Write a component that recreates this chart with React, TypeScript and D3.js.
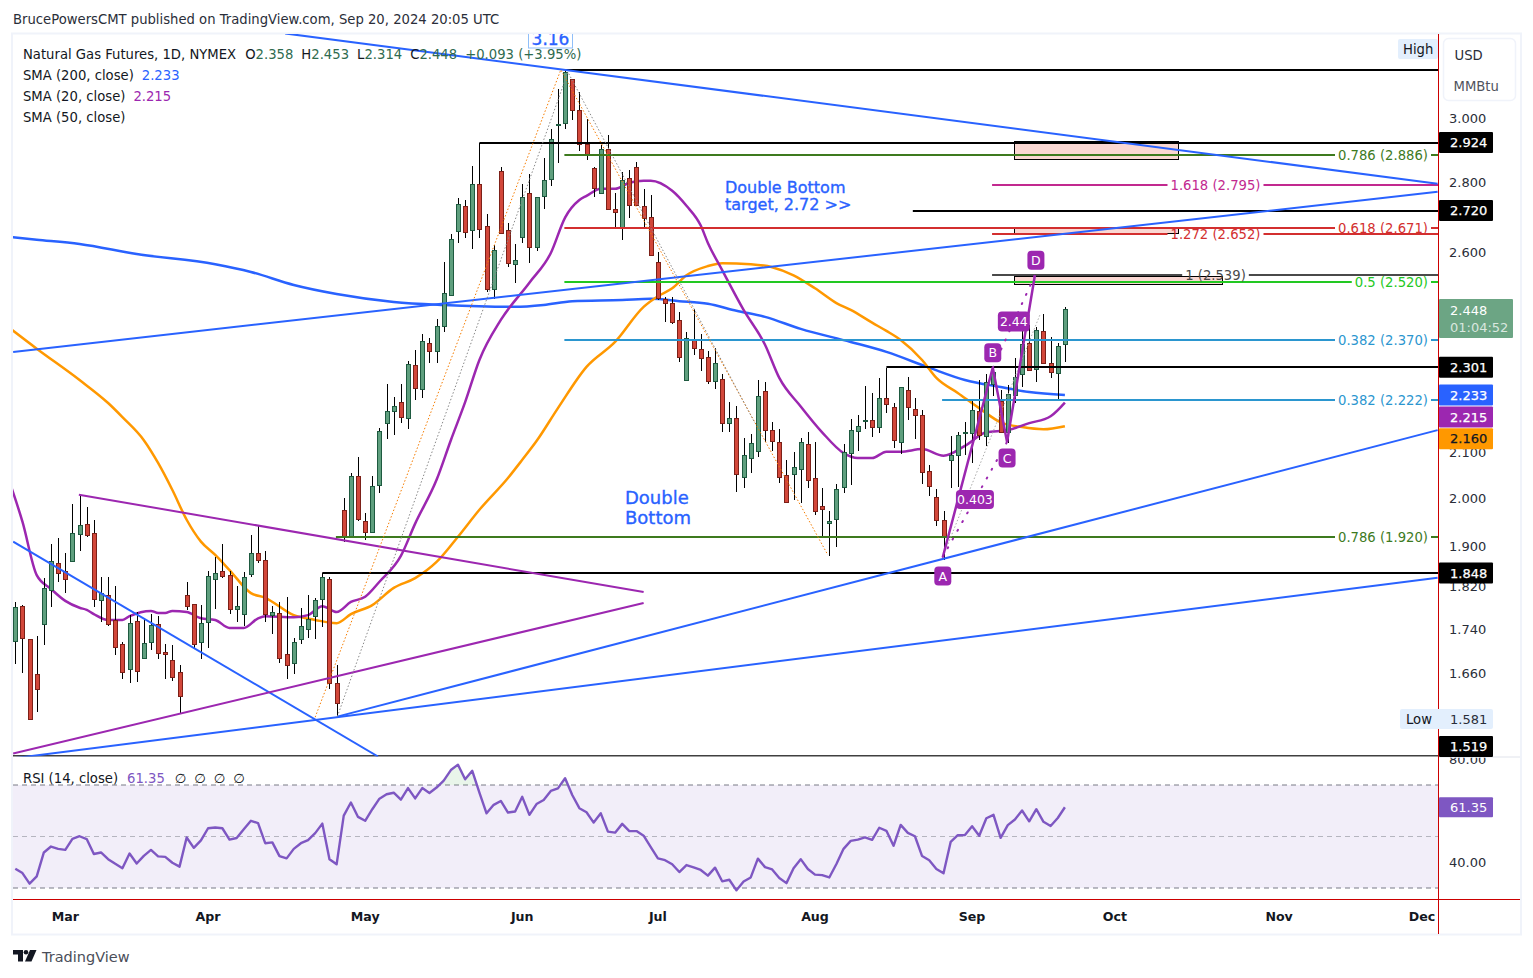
import { useEffect, useRef } from "react"
import * as d3 from "d3"

// daily candles
const openValues = [
  1.718,1.783,1.721,1.658,1.749,1.815,1.866,1.851,1.871,1.927,
  1.947,1.927,1.794,1.804,1.757,1.712,1.667,1.755,1.687,1.716,
  1.749,1.698,1.683,1.662,1.804,1.787,1.716,1.753,1.835,1.851,
  1.843,1.777,1.768,1.845,1.887,1.872,1.767,1.770,1.694,1.678,
  1.721,1.739,1.764,1.796,1.835,1.642,1.975,1.919,2.048,1.952,
  1.929,2.028,2.168,2.195,2.216,2.181,2.306,2.247,2.361,2.341,
  2.404,2.484,2.658,2.732,2.664,2.797,2.675,2.500,2.836,2.661,
  2.567,2.644,2.770,2.615,2.761,2.812,2.978,2.984,3.126,3.026,
  2.919,2.845,2.770,2.903,2.724,2.669,2.815,2.848,2.732,2.701,
  2.573,2.474,2.463,2.419,2.269,2.371,2.346,2.326,2.267,2.272,
  2.167,2.179,2.047,2.088,2.104,2.243,2.151,2.124,2.051,2.053,
  2.064,2.119,2.044,1.984,1.949,1.957,2.024,2.099,2.149,2.172,
  2.174,2.158,2.226,2.204,2.124,2.245,2.199,2.186,2.060,2.003,
  1.955,2.084,2.095,2.144,2.144,2.195,2.137,2.259,2.219,2.146,
  2.233,2.284,2.361,2.296,2.391,2.311,2.286,2.358,
]
const highValues = [
  1.791,1.785,1.721,1.728,1.837,1.905,1.917,1.887,1.988,2.008,
  1.982,1.954,1.839,1.839,1.821,1.716,1.766,1.772,1.760,1.769,
  1.764,1.712,1.710,1.674,1.829,1.787,1.785,1.851,1.879,1.905,
  1.851,1.821,1.849,1.924,1.942,1.890,1.783,1.791,1.800,1.723,
  1.779,1.804,1.798,1.847,1.839,1.674,2.001,2.055,2.090,1.969,
  2.048,2.157,2.259,2.228,2.259,2.316,2.343,2.384,2.373,2.422,
  2.572,2.650,2.755,2.749,2.851,2.921,2.709,2.620,2.848,2.681,
  2.623,2.797,2.827,2.758,2.876,2.965,3.093,3.157,3.126,3.084,
  2.997,2.848,2.915,2.946,2.770,2.833,2.839,2.864,2.782,2.764,
  2.600,2.479,2.479,2.440,2.389,2.448,2.384,2.341,2.348,2.284,
  2.216,2.206,2.132,2.142,2.269,2.264,2.169,2.153,2.084,2.102,
  2.132,2.146,2.124,2.022,1.974,2.031,2.119,2.176,2.186,2.255,
  2.238,2.274,2.299,2.214,2.252,2.276,2.226,2.197,2.073,2.020,
  1.974,2.137,2.146,2.169,2.223,2.269,2.284,2.299,2.245,2.257,
  2.323,2.394,2.406,2.401,2.435,2.376,2.361,2.453,
]
const lowValues = [
  1.677,1.661,1.581,1.593,1.710,1.782,1.829,1.809,1.871,1.890,
  1.920,1.782,1.754,1.746,1.692,1.650,1.642,1.645,1.685,1.701,
  1.686,1.650,1.647,1.590,1.775,1.703,1.686,1.706,1.778,1.837,
  1.769,1.754,1.745,1.839,1.866,1.754,1.730,1.678,1.649,1.659,
  1.713,1.724,1.721,1.744,1.633,1.585,1.909,1.917,1.952,1.913,
  1.927,2.012,2.131,2.140,2.167,2.153,2.221,2.226,2.311,2.311,
  2.389,2.484,2.627,2.641,2.609,2.641,2.492,2.474,2.655,2.559,
  2.516,2.627,2.570,2.603,2.724,2.791,2.861,2.965,2.994,2.897,
  2.870,2.758,2.770,2.721,2.672,2.635,2.698,2.735,2.669,2.595,
  2.471,2.414,2.409,2.313,2.269,2.331,2.291,2.259,2.247,2.146,
  2.146,2.014,2.022,2.055,2.091,2.124,2.104,2.033,1.993,1.997,
  1.990,2.022,1.964,1.920,1.881,1.899,2.012,2.029,2.104,2.153,
  2.135,2.144,2.190,2.110,2.097,2.174,2.130,2.031,2.005,1.942,
  1.873,2.022,2.024,2.095,2.077,2.128,2.115,2.231,2.144,2.121,
  2.214,2.252,2.291,2.264,2.308,2.274,2.223,2.314,
]
const closeValues = [
  1.782,1.723,1.581,1.632,1.817,1.871,1.847,1.835,1.927,1.945,
  1.925,1.796,1.808,1.749,1.707,1.662,1.751,1.664,1.714,1.747,
  1.696,1.694,1.653,1.620,1.783,1.712,1.751,1.841,1.847,1.841,
  1.777,1.783,1.839,1.887,1.872,1.768,1.772,1.687,1.675,1.716,
  1.745,1.758,1.794,1.839,1.642,1.608,1.919,2.048,1.956,1.929,
  2.026,2.148,2.196,2.206,2.181,2.309,2.250,2.366,2.341,2.404,
  2.489,2.637,2.737,2.658,2.797,2.667,2.500,2.606,2.655,2.570,
  2.578,2.758,2.615,2.758,2.809,2.934,2.981,3.150,3.026,2.919,
  2.885,2.785,2.903,2.724,2.715,2.809,2.735,2.735,2.698,2.595,
  2.476,2.463,2.414,2.326,2.373,2.348,2.323,2.267,2.311,2.169,
  2.179,2.053,2.095,2.121,2.231,2.151,2.126,2.047,1.993,2.069,
  2.124,2.040,1.974,1.978,1.953,2.020,2.102,2.151,2.160,2.174,
  2.158,2.226,2.212,2.128,2.252,2.204,2.186,2.058,2.027,1.955,
  1.920,2.095,2.140,2.146,2.197,2.140,2.264,2.289,2.146,2.235,
  2.276,2.358,2.294,2.394,2.311,2.289,2.353,2.448,
]

const sma20Bars = [-1,1,3,5,7,9,10,11,13,15,16,19,20,21,22,24,26,28,30,32,34,35,39,41,43,45,47,49,51,54,56,59,61,63,65,68,72,75,77,79,80,82,84,86,88,89,92,94,96,97,99,102,105,107,110,113,116,118,120,122,124,127,130,133,136,139,142,145,147]
const sma20Values = [2.044,1.951,1.843,1.816,1.793,1.780,1.776,1.768,1.757,1.757,1.764,1.774,1.770,1.770,1.774,1.772,1.760,1.757,1.742,1.742,1.760,1.764,1.762,1.766,1.783,1.772,1.791,1.801,1.830,1.881,1.947,2.040,2.128,2.216,2.318,2.419,2.517,2.598,2.698,2.749,2.761,2.782,2.782,2.800,2.806,2.806,2.776,2.732,2.675,2.626,2.551,2.445,2.356,2.274,2.206,2.146,2.099,2.088,2.088,2.102,2.102,2.108,2.093,2.115,2.146,2.151,2.167,2.183,2.215]

const sma50Bars = [-1,3,9,13,15,18,20,22,24,26,28,30,33,35,39,42,45,47,50,53,56,59,62,65,69,71,73,76,80,84,88,90,92,94,97,99,103,106,109,112,115,117,120,122,124,127,129,132,135,138,141,144,147]
const sma50Values = [2.401,2.346,2.269,2.214,2.181,2.128,2.077,2.018,1.955,1.910,1.883,1.853,1.808,1.799,1.766,1.757,1.751,1.768,1.785,1.818,1.837,1.869,1.920,1.976,2.044,2.084,2.126,2.202,2.301,2.363,2.453,2.481,2.502,2.537,2.562,2.570,2.567,2.559,2.537,2.502,2.463,2.445,2.412,2.391,2.368,2.318,2.274,2.238,2.202,2.169,2.158,2.153,2.160]

const sma200Bars = [-1,3,9,17,28,33,39,45,53,60,70,74,78,85,89,93,97,101,105,110,117,122,128,133,138,142,147]
const sma200Values = [2.643,2.635,2.623,2.595,2.567,2.546,2.511,2.487,2.466,2.458,2.453,2.458,2.468,2.471,2.474,2.468,2.461,2.443,2.427,2.396,2.363,2.338,2.299,2.269,2.252,2.240,2.233]

const rsiValues = [
  37.5,35.8,31.7,34.5,43.8,46.1,45.2,44.8,49.1,50.1,
  49.0,43.2,43.8,41.2,39.4,37.7,43.4,39.5,42.5,44.8,
  42.3,42.1,39.8,38.3,49.6,45.6,48.5,53.2,53.5,53.2,
  48.8,49.4,52.8,56.1,55.2,47.4,47.7,42.4,41.5,45.2,
  47.4,48.6,51.3,55.0,41.2,39.2,58.1,63.2,57.6,56.1,
  60.6,64.7,66.4,67.0,64.3,68.8,64.8,68.8,66.9,69.0,
  71.7,75.8,77.9,72.2,75.5,67.0,59.0,62.3,63.8,59.3,
  59.7,65.4,58.4,62.6,64.2,67.7,68.7,72.6,66.1,61.0,
  59.4,55.4,59.0,51.9,51.5,54.9,52.1,52.1,50.3,45.9,
  41.5,40.8,39.2,36.2,38.9,38.0,37.0,34.8,37.9,32.6,
  33.2,29.1,32.5,34.1,41.4,38.1,37.2,33.9,31.9,37.7,
  41.2,37.4,35.2,35.0,34.1,39.3,45.2,48.3,48.8,49.7,
  48.7,53.4,52.2,46.4,54.5,51.4,50.1,42.4,40.8,37.4,
  35.7,47.9,50.5,50.6,54.0,50.3,57.1,58.4,49.5,54.4,
  56.6,60.1,55.9,60.6,55.7,54.1,57.2,61.35,
]

const priceTicks = [3.0, 2.8, 2.6, 2.1, 2.0, 1.9, 1.82, 1.74, 1.66, 1.58]
const rsiTicks = [80, 40]
const rsiBands = [70, 50, 30]
const monthLabels = ["Mar", "Apr", "May", "Jun", "Jul", "Aug", "Sep", "Oct", "Nov", "Dec"]
const monthBars = [7, 27, 49, 71, 90, 112, 134, 154, 177, 197]

// horizontal levels: price, first bar
const blackLevelPrices = [3.158, 2.924, 2.72, 2.301, 1.848]
const blackLevelBars = [77, 65, 125.7, 122, 43]
const fibLabels = ["0.786 (2.886)", "0.618 (2.671)", "0.5 (2.520)", "0.382 (2.370)", "0.382 (2.222)", "0.786 (1.920)"]
const fibPrices = [2.886, 2.671, 2.52, 2.37, 2.222, 1.92]
const fibBars = [76.9, 76.9, 76.9, 76.9, 129.8, 44.9]
const extLabels = ["1.618 (2.795)", "1.272 (2.652)", "1 (2.539)"]
const extPrices = [2.795, 2.652, 2.539]
const boxBars = [[139.9, 162.8], [139.9, 162.8], [139.9, 169]]
const boxPrices = [[2.926, 2.87], [2.667, 2.652], [2.534, 2.513]]

const blueTrends = [
  [37.8, 3.283, 199.2, 2.797],
  [-0.3, 2.338, 199.2, 2.773],
  [45.1, 1.585, 199.2, 2.151],
  [-0.3, 1.516, 199.2, 1.838],
  [-0.3, 1.91, 50.8, 1.519],
]
const purpleTrends = [
  [8.9, 2.008, 88, 1.81],
  [-0.3, 1.524, 88, 1.789],
]
const orangeFib = [[42, 1.584], [76.4, 3.158], [113.8, 1.883]]
const grayFib = [[45.1, 1.585], [77.4, 3.15], [103.6, 2.167]]
const grayFib2 = [[129.9, 1.879], [143.5, 2.432]]
const patternBars = [129.9, 136.9, 138.9, 142.8]
const patternPrices = [1.879, 2.299, 2.124, 2.537]
const patternNames = ["A", "B", "C", "D"]

const FONT = "'DejaVu Sans', sans-serif"
const TXT = 13.2
const PLOT_L = 13
const PLOT_R = 1438
const PANE_T = 34
const PANE_B = 756.5
const AXIS_R = 1520
const FRAME_B = 934
const TIME_T = 899.5

export default function App() {
  const svgRef = useRef<SVGSVGElement>(null)

  useEffect(() => {
    if (!svgRef.current) return
    const svg = d3.select(svgRef.current)
    svg.selectAll("*").remove()
    svg.attr("font-family", FONT)

    const x = d3.scaleLinear().domain([0, 147]).range([15.3, 1064.9])
    const y = d3.scaleLog().domain([1.519, 3]).range([PANE_B, 118])
    const rsiY = d3.scaleLinear().domain([30, 70]).range([888, 785])
    const levelY = (p: number) => Math.round(y(p) + 0.6)

    svg.append("rect").attr("width", 1533).attr("height", 978).attr("fill", "#fff")

    const defs = svg.append("defs")
    defs.append("clipPath").attr("id", "pane").append("rect")
      .attr("x", PLOT_L).attr("y", PANE_T).attr("width", PLOT_R - PLOT_L).attr("height", PANE_B - PANE_T)
    defs.append("clipPath").attr("id", "above70").append("rect")
      .attr("x", PLOT_L).attr("y", 758).attr("width", PLOT_R - PLOT_L).attr("height", rsiY(70) - 758)
    defs.append("clipPath").attr("id", "axisclip").append("rect")
      .attr("x", PLOT_R).attr("y", PANE_B + 1).attr("width", 82).attr("height", 130)

    // header
    svg.append("text").attr("x", 13).attr("y", 24).attr("font-size", TXT).attr("fill", "#2a2e39")
      .text("BrucePowersCMT published on TradingView.com, Sep 20, 2024 20:05 UTC")

    // frame
    svg.append("rect").attr("x", 12).attr("y", 33.5).attr("width", AXIS_R - 11).attr("height", FRAME_B - 33)
      .attr("fill", "none").attr("stroke", "#f0f3fa").attr("stroke-width", 2)

    const pane = svg.append("g").attr("clip-path", "url(#pane)")

    const lineFrom = (bars: number[], vals: number[]) =>
      d3.line<number>().x((b) => x(b)).y((_, i) => y(vals[i])).curve(d3.curveMonotoneX)(bars)

    // moving averages
    const smaSeries = [
      { bars: sma200Bars, vals: sma200Values, color: "#2962ff" },
      { bars: sma50Bars, vals: sma50Values, color: "#ff9800" },
      { bars: sma20Bars, vals: sma20Values, color: "#9c27b0" },
    ]
    smaSeries.forEach((s) => {
      pane.append("path").attr("d", lineFrom(s.bars, s.vals)).attr("fill", "none")
        .attr("stroke", s.color).attr("stroke-width", 2.5).attr("stroke-linejoin", "round")
    })

    // candles
    const candles = pane.selectAll(".candle").data(openValues.map((o, i) => i)).enter().append("g")
    candles.append("rect")
      .attr("x", (i) => Math.round(x(i)))
      .attr("y", (i) => y(highValues[i]))
      .attr("width", 1)
      .attr("height", (i) => y(lowValues[i]) - y(highValues[i]))
      .attr("fill", "#000")
      .attr("shape-rendering", "crispEdges")
    candles.append("rect")
      .attr("x", (i) => Math.round(x(i)) - 1.5)
      .attr("y", (i) => Math.round(y(Math.max(openValues[i], closeValues[i]))) + 0.5)
      .attr("width", 4)
      .attr("height", (i) => Math.max(1, Math.round(Math.abs(y(openValues[i]) - y(closeValues[i])))))
      .attr("fill", (i) => (closeValues[i] >= openValues[i] ? "#5f9f7e" : "#d2473a"))
      .attr("stroke", (i) => (closeValues[i] >= openValues[i] ? "#1e5a40" : "#7c2018"))
      .attr("stroke-width", 1)
      .attr("shape-rendering", "crispEdges")

    // fib boxes
    boxBars.forEach((b, i) => {
      pane.append("rect").attr("x", Math.round(x(b[0])) + 0.5).attr("width", Math.round(x(b[1]) - x(b[0])))
        .attr("y", Math.round(y(boxPrices[i][0])) + 0.5).attr("height", Math.round(y(boxPrices[i][1]) - y(boxPrices[i][0])))
        .attr("fill", "#f9d3cd").attr("fill-opacity", 0.9).attr("stroke", "#000").attr("stroke-width", 1)
    })

    // black levels
    blackLevelPrices.forEach((p, i) => {
      pane.append("line").attr("x1", x(blackLevelBars[i])).attr("x2", PLOT_R)
        .attr("y1", levelY(p)).attr("y2", levelY(p)).attr("stroke", "#000").attr("stroke-width", 2)
    })
    pane.append("line").attr("x1", PLOT_L).attr("x2", PLOT_R).attr("y1", PANE_B - 0.5).attr("y2", PANE_B - 0.5)
      .attr("stroke", "#000").attr("stroke-width", 1.5)

    // fib levels with the label sitting in a gap of the line
    const fibColors = ["#3d7a1e", "#d32f2f", "#22c822", "#2b96cf", "#2b96cf", "#3d7a1e"]
    const gappedLevel = (text: string, price: number, startX: number, labelX: number, anchor: string, color: string) => {
      const t = svg.append("text").attr("x", labelX).attr("y", levelY(price) + 4.5).attr("text-anchor", anchor)
        .attr("font-size", TXT).attr("fill", color).text(text)
      const box = (t.node() as SVGTextElement).getBBox()
      pane.append("line").attr("x1", startX).attr("x2", box.x - 3).attr("y1", levelY(price)).attr("y2", levelY(price))
        .attr("stroke", color).attr("stroke-width", 2)
      pane.append("line").attr("x1", box.x + box.width + 3).attr("x2", PLOT_R).attr("y1", levelY(price)).attr("y2", levelY(price))
        .attr("stroke", color).attr("stroke-width", 2)
    }
    fibLabels.forEach((l, i) => gappedLevel(l, fibPrices[i], x(fibBars[i]), 1428, "end", fibColors[i]))
    const extColors = ["#c2298f", "#d32f2f", "#4a4a4a"]
    extLabels.forEach((l, i) => gappedLevel(l, extPrices[i], x(136.8), 1215.5, "middle", extColors[i]))

    // trend lines
    blueTrends.forEach((t) => {
      pane.append("line").attr("x1", x(t[0])).attr("y1", y(t[1])).attr("x2", x(t[2])).attr("y2", y(t[3]))
        .attr("stroke", "#2962ff").attr("stroke-width", 2)
    })
    purpleTrends.forEach((t) => {
      pane.append("line").attr("x1", x(t[0])).attr("y1", y(t[1])).attr("x2", x(t[2])).attr("y2", y(t[3]))
        .attr("stroke", "#9c27b0").attr("stroke-width", 2)
    })

    // thin dotted fib legs
    const dotted = (pts: number[][], color: string) => {
      pane.append("path").attr("d", d3.line<number[]>().x((d) => x(d[0])).y((d) => y(d[1]))(pts))
        .attr("fill", "none").attr("stroke", color).attr("stroke-width", 1).attr("stroke-dasharray", "1.5 2")
    }
    dotted(orangeFib, "#f57c00")
    dotted(grayFib, "#888")
    dotted(grayFib2, "#aaa")

    // ABCD pattern
    const patternX = patternBars.map((b) => x(b))
    const patternY = patternPrices.map((p) => y(p))
    pane.append("path")
      .attr("d", d3.line<number>().x((_, i) => patternX[i]).y((_, i) => patternY[i])(patternBars))
      .attr("fill", "none").attr("stroke", "#9c27b0").attr("stroke-width", 2.5)
    ;[[0, 2], [1, 3]].forEach(([a, b]) => {
      pane.append("line").attr("x1", patternX[a]).attr("y1", patternY[a]).attr("x2", patternX[b]).attr("y2", patternY[b])
        .attr("stroke", "#9c27b0").attr("stroke-width", 2).attr("stroke-dasharray", "1 9").attr("stroke-linecap", "round")
    })
    const badge = (text: string, cx: number, cy: number, w: number, h: number, size: number) => {
      svg.append("rect").attr("x", cx - w / 2).attr("y", cy - h / 2).attr("width", w).attr("height", h)
        .attr("rx", 4).attr("fill", "#9c27b0")
      svg.append("text").attr("x", cx).attr("y", cy + size * 0.37).attr("text-anchor", "middle")
        .attr("font-size", size).attr("fill", "#fff").text(text)
    }
    const badgeDy = [19, -15, 16, -15]
    patternNames.forEach((n, i) => badge(n, patternX[i] + (i === 3 ? 1 : 0), patternY[i] + badgeDy[i], 17, 19, 12.5))
    badge("0.403", (patternX[0] + patternX[2]) / 2, (patternY[0] + patternY[2]) / 2, 38, 19, 12.5)
    badge("2.44", (patternX[1] + patternX[3]) / 2, (patternY[1] + patternY[3]) / 2, 32, 20, 12.5)

    // notes
    const note = (t: string, xx: number, yy: number, size: number) => {
      svg.append("text").attr("x", xx).attr("y", yy).attr("font-size", size).attr("fill", "#2962ff")
        .attr("stroke", "#2962ff").attr("stroke-width", 0.35).text(t)
    }
    note("Double Bottom", 725, 193, 16)
    note("target, 2.72 >>", 725, 210, 16)
    note("Double", 625, 504, 18)
    note("Bottom", 625, 524, 18)

    // legend
    const legendLine = svg.append("text").attr("x", 23).attr("y", 58.5).attr("font-size", TXT).attr("fill", "#131722")
    legendLine.append("tspan").text("Natural Gas Futures, 1D, NYMEX")
    ;[["O", "2.358"], ["H", "2.453"], ["L", "2.314"], ["C", "2.448"]].forEach(([k, v], i) => {
      legendLine.append("tspan").attr("dx", i === 0 ? 10 : 8).text(k)
      legendLine.append("tspan").attr("fill", "#2f6b4f").text(v)
    })
    legendLine.append("tspan").attr("dx", 8).attr("fill", "#2f6b4f").text("+0.093 (+3.95%)")
    const smaLegend = [
      { t: "SMA (200, close)", v: "2.233", c: "#2962ff", yy: 79.5 },
      { t: "SMA (20, close)", v: "2.215", c: "#9c27b0", yy: 100.5 },
      { t: "SMA (50, close)", v: "", c: "#000", yy: 121.5 },
    ]
    smaLegend.forEach((s) => {
      const t = svg.append("text").attr("x", 23).attr("y", s.yy).attr("font-size", TXT).attr("fill", "#131722")
      t.append("tspan").text(s.t)
      t.append("tspan").attr("dx", 8).attr("fill", s.c).text(s.v)
    })

    // high marker above the top candle
    const hi = svg.append("g").attr("clip-path", "url(#pane)")
    hi.append("rect").attr("x", 528.5).attr("y", 30).attr("width", 44).attr("height", 18)
      .attr("fill", "#fff").attr("stroke", "#90bff9")
    hi.append("text").attr("x", 550.5).attr("y", 45).attr("text-anchor", "middle").attr("font-size", 17)
      .attr("fill", "#2962ff").attr("stroke", "#2962ff").attr("stroke-width", 0.35).text("3.16")

    // price axis
    const axisText = "#2a2e39"
    priceTicks.forEach((p) => {
      svg.append("text").attr("x", 1449).attr("y", y(p) + 4.5).attr("font-size", 13).attr("fill", axisText)
        .text(p.toFixed(3))
    })

    // RSI pane
    svg.append("rect").attr("x", PLOT_L).attr("width", PLOT_R - PLOT_L)
      .attr("y", rsiY(70)).attr("height", rsiY(30) - rsiY(70)).attr("fill", "#7e57c2").attr("fill-opacity", 0.1)
    rsiBands.forEach((b) => {
      svg.append("line").attr("x1", PLOT_L).attr("x2", PLOT_R).attr("y1", rsiY(b)).attr("y2", rsiY(b))
        .attr("stroke", "#787b86").attr("stroke-opacity", b === 50 ? 0.5 : 1).attr("stroke-dasharray", "5 4")
    })
    svg.append("path").attr("clip-path", "url(#above70)")
      .attr("d", d3.area<number>().x((_, i) => x(i)).y0(rsiY(70)).y1((d) => rsiY(d))(rsiValues))
      .attr("fill", "#4caf50").attr("fill-opacity", 0.12)
    svg.append("path").attr("d", d3.line<number>().x((_, i) => x(i)).y((d) => rsiY(d))(rsiValues))
      .attr("fill", "none").attr("stroke", "#7e57c2").attr("stroke-width", 2.4).attr("stroke-linejoin", "round")
    const rsiLegend = svg.append("text").attr("x", 23).attr("y", 783).attr("font-size", TXT).attr("fill", "#131722")
    rsiLegend.append("tspan").text("RSI (14, close)")
    rsiLegend.append("tspan").attr("dx", 9).attr("fill", "#7e57c2").text("61.35")
    ;["∅", "∅", "∅", "∅"].forEach((s, i) => rsiLegend.append("tspan").attr("dx", i === 0 ? 10 : 8).text(s))

    const rsiAxis = svg.append("g").attr("clip-path", "url(#axisclip)")
    rsiTicks.forEach((r) => {
      rsiAxis.append("text").attr("x", 1449).attr("y", rsiY(r) + 4.5).attr("font-size", 13).attr("fill", axisText)
        .text(r.toFixed(2))
    })

    // dividers and the red cross lines
    svg.append("line").attr("x1", PLOT_R).attr("x2", AXIS_R).attr("y1", PANE_B + 0.5).attr("y2", PANE_B + 0.5)
      .attr("stroke", "#e0e3eb")
    svg.append("line").attr("x1", PLOT_L).attr("x2", AXIS_R).attr("y1", TIME_T).attr("y2", TIME_T)
      .attr("stroke", "#cc0000")
    svg.append("line").attr("x1", PLOT_R + 0.5).attr("x2", PLOT_R + 0.5).attr("y1", PANE_T).attr("y2", FRAME_B)
      .attr("stroke", "#cc0000")

    // month labels
    monthLabels.forEach((m, i) => {
      svg.append("text").attr("x", x(monthBars[i])).attr("y", 921).attr("text-anchor", "middle")
        .attr("font-size", 12.6).attr("fill", "#131722").attr("font-weight", 600).text(m)
    })

    // currency box
    svg.append("rect").attr("x", 1443.5).attr("y", 38.5).attr("width", 72).attr("height", 62).attr("rx", 5)
      .attr("fill", "#fff").attr("stroke", "#f0f3fa").attr("stroke-width", 1.5)
    svg.append("text").attr("x", 1454.5).attr("y", 59.5).attr("font-size", TXT).attr("fill", "#2a2e39").text("USD")
    svg.append("text").attr("x", 1453.5).attr("y", 90.5).attr("font-size", TXT).attr("fill", "#50535e").text("MMBtu")

    // high / low flags
    svg.append("rect").attr("x", 1398).attr("y", 39).attr("width", 40).attr("height", 20).attr("rx", 2).attr("fill", "#e3effd")
    svg.append("text").attr("x", 1403).attr("y", 54).attr("font-size", TXT).attr("fill", "#131722").text("High")
    svg.append("rect").attr("x", 1400).attr("y", y(1.581) - 10).attr("width", 93).attr("height", 20).attr("rx", 2).attr("fill", "#e3effd")
    svg.append("text").attr("x", 1406).attr("y", y(1.581) + 5).attr("font-size", TXT).attr("fill", "#131722").text("Low")
    svg.append("text").attr("x", 1450).attr("y", y(1.581) + 5).attr("font-size", 13).attr("fill", "#2a2e39").text("1.581")

    // price tags on the axis
    const tags = [
      { v: 2.924, fill: "#000", text: "#fff", dy: 0.5 },
      { v: 2.72, fill: "#000", text: "#fff", dy: 0.5 },
      { v: 2.301, fill: "#000", text: "#fff", dy: 0.5 },
      { v: 1.848, fill: "#000", text: "#fff", dy: 0.5 },
      { v: 1.519, fill: "#000", text: "#fff", dy: -10 },
      { v: 2.233, fill: "#2962ff", text: "#fff", dy: 0 },
      { v: 2.215, fill: "#9c27b0", text: "#fff", dy: 14.5 },
      { v: 2.16, fill: "#ff9800", text: "#131722", dy: 12.5 },
    ]
    tags.forEach((t) => {
      const cy = y(t.v) + t.dy
      svg.append("rect").attr("x", 1439).attr("y", cy - 10.5).attr("width", 54).attr("height", 21).attr("rx", 1).attr("fill", t.fill)
      svg.append("text").attr("x", 1450).attr("y", cy + 4.7).attr("font-size", 13)
        .attr("fill", t.text).attr("stroke", t.text).attr("stroke-width", 0.25).text(t.v.toFixed(3))
    })
    svg.append("rect").attr("x", 1439).attr("y", 299).attr("width", 74).attr("height", 39).attr("rx", 1).attr("fill", "#6ca584")
    svg.append("text").attr("x", 1450).attr("y", 314.5).attr("font-size", 13).attr("fill", "#fff").text("2.448")
    svg.append("text").attr("x", 1450).attr("y", 332).attr("font-size", 13).attr("fill", "#fff").attr("fill-opacity", 0.75).text("01:04:52")
    svg.append("rect").attr("x", 1439).attr("y", rsiY(61.35) - 10).attr("width", 54).attr("height", 20).attr("rx", 1).attr("fill", "#7e57c2")
    svg.append("text").attr("x", 1450).attr("y", rsiY(61.35) + 4.7).attr("font-size", 13).attr("fill", "#fff").text("61.35")

    // brand mark
    const logo = svg.append("g").attr("fill", "#131722")
    logo.append("path").attr("d", "M13 950h10v11.5h-5v-7h-5z")
    logo.append("circle").attr("cx", 26).attr("cy", 952.3).attr("r", 2.3)
    logo.append("path").attr("d", "M30 950h6.5l-5 11.5h-6.5z")
    svg.append("text").attr("x", 42).attr("y", 962).attr("font-size", 14.5).attr("fill", "#4a4e59").text("TradingView")
  }, [])

  return (
    <svg ref={svgRef} width={1533} height={978} style={{ position: "absolute", left: 0, top: 0 }}></svg>
  )
}
